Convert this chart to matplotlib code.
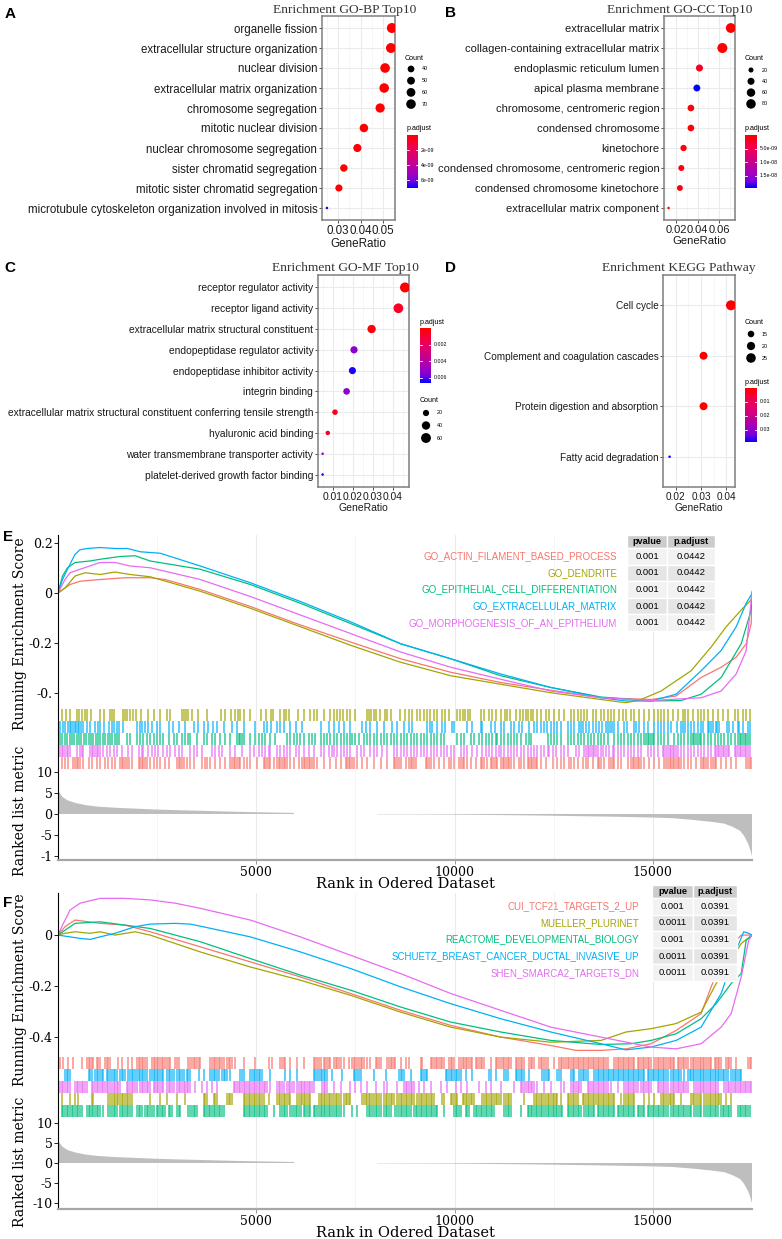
import numpy as np
import matplotlib.pyplot as plt
from matplotlib.colors import LinearSegmentedColormap
from matplotlib.patches import Rectangle

W, H = 782, 1239
SANS = 'Liberation Sans'
SERIF_T = 'Liberation Serif'
SERIF = 'DejaVu Serif'

# ---------------- A: GO-BP ----------------
bp_terms = ['organelle fission', 'extracellular structure organization', 'nuclear division',
            'extracellular matrix organization', 'chromosome segregation', 'mitotic nuclear division',
            'nuclear chromosome segregation', 'sister chromatid segregation',
            'mitotic sister chromatid segregation', 'microtubule cytoskeleton organization involved in mitosis']
bp_ratio = [0.0539, 0.0535, 0.0509, 0.0505, 0.0487, 0.0415, 0.0386, 0.0326, 0.0304, 0.0251]
bp_count = [76, 75, 71, 70, 66, 57, 53, 46, 43, 23]
bp_padj = [3e-13, 5e-12, 2e-12, 1e-11, 4e-11, 8e-11, 2e-10, 3e-11, 5e-11, 7.0e-9]

# ---------------- B: GO-CC ----------------
cc_terms = ['extracellular matrix', 'collagen-containing extracellular matrix', 'endoplasmic reticulum lumen',
            'apical plasma membrane', 'chromosome, centromeric region', 'condensed chromosome', 'kinetochore',
            'condensed chromosome, centromeric region', 'condensed chromosome kinetochore',
            'extracellular matrix component']
cc_ratio = [0.0708, 0.0630, 0.0418, 0.0394, 0.0339, 0.0339, 0.0271, 0.0250, 0.0237, 0.0132]
cc_count = [86, 90, 40, 38, 35, 35, 31, 28, 27, 11]
cc_padj = [1e-13, 2e-12, 1.8e-9, 1.95e-8, 4e-10, 4e-10, 6e-10, 8e-10, 8e-10, 5e-10]

# ---------------- C: GO-MF ----------------
mf_terms = ['receptor regulator activity', 'receptor ligand activity', 'extracellular matrix structural constituent',
            'endopeptidase regulator activity', 'endopeptidase inhibitor activity', 'integrin binding',
            'extracellular matrix structural constituent conferring tensile strength', 'hyaluronic acid binding',
            'water transmembrane transporter activity', 'platelet-derived growth factor binding']
mf_ratio = [0.0460, 0.0427, 0.0293, 0.0205, 0.0197, 0.0168, 0.0110, 0.0074, 0.0048, 0.0048]
mf_count = [62, 58, 40, 28, 27, 23, 15, 10, 6, 6]
mf_padj = [1e-5, 8e-4, 2e-4, 5.3e-3, 6.4e-3, 5.2e-3, 4e-4, 9e-4, 5.0e-3, 6.6e-3]

# ---------------- D: KEGG ----------------
kegg_terms = ['Cell cycle', 'Complement and coagulation cascades', 'Protein digestion and absorption',
              'Fatty acid degradation']
kegg_ratio = [0.0418, 0.0310, 0.0310, 0.0176]
kegg_count = [27, 19, 19, 10]
kegg_padj = [2e-6, 1.5e-4, 1.5e-4, 0.039]

# ---------------- E / F : GSEA ----------------
N_GENES = 17500
hue5 = ['#F8766D', '#A3A500', '#00BF7D', '#00B0F6', '#E76BF3']

e_names = ['GO_ACTIN_FILAMENT_BASED_PROCESS', 'GO_DENDRITE', 'GO_EPITHELIAL_CELL_DIFFERENTIATION',
           'GO_EXTRACELLULAR_MATRIX', 'GO_MORPHOGENESIS_OF_AN_EPITHELIUM']
e_pvalue = ['0.001', '0.001', '0.001', '0.001', '0.001']
e_padjust = ['0.0442', '0.0442', '0.0442', '0.0442', '0.0442']

f_names = ['CUI_TCF21_TARGETS_2_UP', 'MUELLER_PLURINET', 'REACTOME_DEVELOPMENTAL_BIOLOGY',
           'SCHUETZ_BREAST_CANCER_DUCTAL_INVASIVE_UP', 'SHEN_SMARCA2_TARGETS_DN']
f_pvalue = ['0.001', '0.0011', '0.001', '0.0011', '0.0011']
f_padjust = ['0.0391', '0.0391', '0.0391', '0.0391', '0.0391']

# running enrichment score curves (rank, ES)
e_actin_rank = [0, 303, 556, 1061, 1693, 2324, 2703, 3587, 4850, 6113, 7376, 8639, 9902, 11165, 12428,
                13691, 14954, 15586, 16217, 16722, 17101, 17354, 17480, 17500]
e_actin_es = [0, 0.034, 0.047, 0.054, 0.061, 0.061, 0.054, 0.014, -0.054, -0.128, -0.196, -0.263, -0.317,
              -0.358, -0.389, -0.419, -0.426, -0.412, -0.338, -0.297, -0.257, -0.203, -0.122, 0.0]
e_dendrite_rank = [0, 177, 430, 682, 1061, 1440, 1819, 2324, 3587, 4850, 6113, 7376, 8639, 9902, 11165,
                   12428, 13691, 14323, 14701, 15207, 15965, 16470, 16849, 17228, 17480, 17500]
e_dendrite_es = [0, 0.020, 0.068, 0.081, 0.074, 0.084, 0.074, 0.065, 0.007, -0.061, -0.135, -0.209, -0.277,
                 -0.331, -0.365, -0.399, -0.426, -0.439, -0.426, -0.392, -0.311, -0.216, -0.135, -0.068,
                 -0.027, 0.0]
e_epi_rank = [0, 114, 240, 430, 808, 1061, 1566, 1945, 2324, 3587, 4850, 6113, 7376, 8639, 9902, 11165,
              12428, 13691, 14954, 15712, 16217, 16722, 17228, 17480, 17500]
e_epi_es = [0, 0.068, 0.101, 0.122, 0.128, 0.135, 0.146, 0.149, 0.128, 0.095, 0.034, -0.041, -0.122, -0.203,
            -0.263, -0.331, -0.378, -0.416, -0.432, -0.430, -0.405, -0.338, -0.203, -0.068, -0.01]
e_ecm_rank = [0, 114, 240, 430, 556, 745, 1061, 1440, 1756, 2071, 2577, 3587, 4850, 6113, 7376, 8639, 9902,
              11165, 12428, 13691, 14323, 14954, 15586, 16217, 16722, 17101, 17354, 17480, 17500]
e_ecm_es = [0, 0.054, 0.095, 0.155, 0.173, 0.178, 0.182, 0.178, 0.178, 0.165, 0.159, 0.108, 0.041, -0.034,
            -0.115, -0.203, -0.263, -0.324, -0.378, -0.419, -0.432, -0.432, -0.405, -0.311, -0.230, -0.135,
            -0.041, -0.007, 0.0]
e_morpho_rank = [0, 177, 303, 556, 1061, 1440, 1819, 2324, 3587, 4850, 6113, 7376, 8639, 9902, 11165, 12428,
                 13691, 14954, 16217, 16722, 17101, 17354, 17500]
e_morpho_es = [0, 0.054, 0.081, 0.095, 0.122, 0.122, 0.108, 0.101, 0.054, -0.014, -0.088, -0.162, -0.236,
               -0.297, -0.345, -0.392, -0.419, -0.430, -0.419, -0.392, -0.324, -0.230, 0.007]

f_cui_rank = [0, 177, 430, 1061, 1693, 2324, 3587, 4850, 6113, 7376, 8639, 9902, 11165, 12428, 13060, 13691,
              14323, 14954, 15586, 16217, 16470, 16849, 17228, 17500]
f_cui_es = [0, 0.033, 0.059, 0.046, 0.039, 0.013, -0.046, -0.105, -0.164, -0.229, -0.295, -0.354, -0.400,
            -0.433, -0.452, -0.452, -0.446, -0.426, -0.374, -0.308, -0.203, -0.059, 0.0, 0.0]
f_mueller_rank = [0, 177, 430, 808, 1061, 1440, 1945, 2324, 2956, 3587, 4850, 6113, 7376, 8639, 9902, 11165,
                  12428, 13691, 14323, 14954, 15586, 16217, 16596, 16975, 17228, 17500]
f_mueller_es = [0, 0.007, 0.013, 0.007, 0.013, 0.0, 0.013, 0.0, -0.033, -0.066, -0.125, -0.177, -0.236,
                -0.302, -0.361, -0.400, -0.420, -0.413, -0.380, -0.367, -0.347, -0.302, -0.190, -0.098,
                -0.033, 0.0]
f_reactome_rank = [0, 240, 430, 1061, 1693, 2324, 3587, 4850, 6113, 7376, 8639, 9902, 11165, 12428, 13691,
                   14450, 14954, 15586, 16217, 16596, 16975, 17228, 17354, 17500]
f_reactome_es = [0, 0.026, 0.046, 0.052, 0.039, 0.026, -0.026, -0.092, -0.157, -0.216, -0.282, -0.341,
                 -0.380, -0.413, -0.429, -0.426, -0.413, -0.387, -0.328, -0.269, -0.190, -0.151, -0.020, 0.0]
f_schuetz_rank = [0, 303, 556, 808, 1061, 1440, 1945, 2324, 2956, 3334, 3587, 4850, 6113, 7376, 8639, 9902,
                  11165, 12428, 13691, 14323, 14954, 15586, 16217, 16722, 17101, 17291, 17417, 17500]
f_schuetz_es = [0, -0.007, -0.013, -0.017, -0.007, 0.007, 0.033, 0.043, 0.046, 0.043, 0.035, -0.007, -0.066,
                -0.131, -0.203, -0.269, -0.328, -0.380, -0.426, -0.450, -0.439, -0.413, -0.361, -0.229,
                -0.059, 0.013, 0.007, 0.0]
f_shen_rank = [0, 114, 303, 556, 1061, 1693, 2324, 2956, 3587, 4850, 6113, 7376, 8639, 9902, 11165, 12428,
               13691, 14954, 15586, 16217, 16722, 16975, 17228, 17417, 17500]
f_shen_es = [0, 0.039, 0.098, 0.125, 0.144, 0.144, 0.138, 0.125, 0.105, 0.059, -0.007, -0.079, -0.151,
             -0.229, -0.295, -0.361, -0.400, -0.439, -0.446, -0.426, -0.361, -0.308, -0.164, -0.020, 0.0]

# gene-set hit positions (ranks)
e_dendrite_hits = [90, 200, 290, 470, 540, 600, 670, 720, 830, 1060, 1150, 1300, 1360, 1420, 1630, 1690, 1750,
    1820, 1890, 1970, 2090, 2260, 2430, 2580, 2760, 2830, 3120, 3170, 3230, 3290, 3380, 3520, 3760, 4110, 4220,
    4350, 4470, 4530, 4600, 4700, 4850, 5120, 5250, 5360, 5420, 5610, 5690, 5760, 5830, 6050, 6210, 6350, 6450,
    6530, 6720, 6850, 6970, 7040, 7120, 7190, 7280, 7360, 7500, 7780, 7840, 7900, 7970, 8030, 8120, 8240, 8300,
    8400, 8620, 8740, 8850, 8930, 9060, 9140, 9230, 9310, 9390, 9480, 9560, 9690, 9770, 9860, 10070, 10140,
    10200, 10270, 10340, 10400, 10660, 10740, 10870, 10950, 11040, 11160, 11260, 11330, 11400, 11540, 11650,
    11720, 11790, 11850, 11920, 11990, 12090, 12170, 12300, 12380, 12510, 12640, 12760, 12930, 13010, 13100,
    13180, 13270, 13350, 13480, 13560, 13690, 13770, 13860, 13940, 14030, 14150, 14240, 14320, 14450, 14530,
    14660, 14780, 14910, 15040, 15120, 15200, 15290, 15370, 15500, 15630, 15750, 15820, 15880, 16000, 16130,
    16210, 16300, 16380, 16510, 16640, 16760, 16890, 17060, 17140, 17270, 17350, 17440]
e_ecm_hits = [50, 130, 180, 260, 300, 340, 380, 420, 460, 500, 540, 580, 620, 720, 800, 940, 1000, 1070, 1150,
    1280, 1350, 1420, 1480, 1530, 1640, 1990, 2060, 2130, 2200, 2270, 2360, 2490, 2580, 2790, 2900, 3040, 3210,
    3420, 3540, 3670, 3780, 3920, 4010, 4180, 4390, 4510, 4680, 4980, 5190, 5270, 5360, 5520, 5610, 5690, 5860,
    5990, 6160, 6620, 6830, 6960, 7080, 7210, 7370, 7670, 7760, 7880, 8050, 8220, 8430, 8550, 8720, 8850, 8930,
    9310, 9390, 9440, 9560, 9690, 9770, 9940, 9990, 10320, 10450, 10660, 10700, 10910, 11030, 11160, 11250,
    11420, 11500, 11630, 11710, 11880, 12000, 12090, 12170, 12260, 12340, 12430, 12510, 12590, 12680, 12850,
    12930, 13010, 13140, 13180, 13230, 13310, 13390, 13480, 13560, 13640, 13720, 13810, 13860, 13920, 13980,
    14030, 14110, 14280, 14360, 14530, 14570, 14650, 14780, 14870, 15030, 15120, 15200, 15290, 15370, 15460,
    15620, 15710, 15750, 15800, 15880, 15960, 16050, 16130, 16210, 16260, 16380, 16420, 16470, 16520, 16580,
    16630, 16680, 16880, 16930, 17010, 17140, 17180, 17270, 17390, 17440]
e_epi_hits = [50, 110, 170, 230, 290, 350, 410, 470, 530, 590, 650, 710, 770, 830, 890, 950, 1010, 1070, 1130,
    1190, 1250, 1310, 1370, 1430, 1490, 1550, 1735, 1820, 1990, 2070, 2155, 2240, 2325, 2410, 2490, 2575, 2660,
    2790, 2915, 3000, 3120, 3200, 3290, 3335, 3500, 3670, 3755, 3880, 3965, 4090, 4220, 4345, 4515, 4560, 4600,
    4640, 4680, 4850, 4980, 5060, 5140, 5230, 5355, 5480, 5775, 5860, 5940, 6030, 6110, 6200, 6320, 6400, 6490,
    6620, 6700, 6790, 6870, 6955, 7040, 7125, 7210, 7290, 7375, 7420, 7500, 7590, 7710, 7795, 7880, 7965, 8050,
    8135, 8220, 8300, 8385, 8470, 8555, 8640, 8725, 8810, 8890, 8980, 9060, 9145, 9230, 9310, 9400, 9480, 9565,
    9650, 9735, 10070, 10155, 10240, 10410, 10490, 10620, 10700, 10780, 10870, 10950, 11040, 11080, 11165,
    11250, 11335, 11420, 11500, 11585, 11670, 11800, 11880, 11925, 12345, 12430, 12515, 12595, 12680, 12850,
    12935, 13020, 13100, 13185, 13270, 13355, 13440, 13525, 13610, 13690, 13775, 13860, 14030, 14115, 14195,
    14280, 14365, 14450, 14535, 14620, 14700, 14785, 14830, 14870, 14910, 14955, 15000, 15040, 15125, 15210,
    15290, 15375, 15545, 15630, 15715, 15795, 15880, 15965, 16010, 16050, 16090, 16135, 16180, 16220, 16300,
    16385, 16470, 16555, 16640, 16725, 16805, 16890, 16975, 17060, 17145, 17190, 17230, 17270, 17315, 17355,
    17395, 17440]
e_morpho_hits = [50, 100, 135, 180, 220, 260, 300, 470, 560, 600, 640, 810, 850, 890, 930, 980, 1020, 1060,
    1145, 1230, 1315, 1400, 1480, 1610, 1775, 1860, 2030, 2110, 2155, 2280, 2370, 2450, 2530, 2660, 2745, 2830,
    2960, 3040, 3120, 3335, 3420, 3500, 3630, 3880, 3965, 4050, 4130, 4345, 4470, 4640, 4850, 4935, 5060, 5140,
    5230, 5310, 5355, 5525, 5610, 5690, 5775, 5860, 5990, 6070, 6200, 6320, 6450, 6620, 6700, 6830, 6910, 6955,
    7040, 7125, 7210, 7290, 7375, 7545, 7630, 7710, 7880, 7965, 8050, 8175, 8300, 8470, 8555, 8640, 8725, 8810,
    8890, 8980, 9060, 9145, 9230, 9310, 9400, 9480, 9565, 9650, 9735, 9820, 9900, 9990, 10155, 10240, 10325,
    10450, 10575, 10700, 10780, 10870, 10950, 11040, 11120, 11165, 11250, 11335, 11420, 11500, 11585, 11670,
    11755, 11840, 11925, 12010, 12090, 12175, 12260, 12345, 12390, 12470, 12555, 12680, 12765, 12850, 13060,
    13140, 13270, 13310, 13355, 13400, 13440, 13480, 13525, 13570, 13610, 13690, 13735, 13820, 13900, 13990,
    14030, 14115, 14195, 14280, 14365, 14450, 14535, 14620, 14700, 14870, 14955, 15040, 15125, 15250, 15290,
    15335, 15375, 15420, 15460, 15500, 15545, 15590, 15630, 15715, 15795, 15880, 15965, 16050, 16135, 16220,
    16300, 16385, 16470, 16555, 16600, 16640, 16680, 16725, 16765, 16805, 16850, 16890, 16930, 17060, 17100,
    17145, 17190, 17230, 17270, 17315, 17355, 17395, 17440]
e_actin_hits = [90, 180, 260, 390, 430, 470, 510, 560, 640, 770, 850, 980, 1060, 1190, 1270, 1360, 1440, 1565,
    1610, 1650, 1690, 1735, 1780, 1860, 2030, 2070, 2110, 2155, 2200, 2240, 2325, 2410, 2490, 2575, 2700, 2790,
    3000, 3040, 3080, 3120, 3165, 3250, 3335, 3420, 3630, 3710, 3755, 3840, 3965, 4090, 4220, 4345, 4390, 4430,
    4470, 4515, 4560, 4600, 4680, 4765, 4850, 5020, 5185, 5230, 5270, 5310, 5355, 5440, 5525, 5570, 5610, 5650,
    5690, 5735, 5775, 5860, 5945, 6070, 6160, 6200, 6240, 6280, 6320, 6365, 6410, 6450, 6535, 6700, 6870, 7000,
    7125, 7250, 7290, 7330, 7375, 7420, 7460, 7545, 7670, 7795, 7965, 8135, 8300, 8470, 8510, 8555, 8600, 8640,
    8770, 8850, 8890, 8930, 8980, 9020, 9270, 9310, 9350, 9400, 9480, 9610, 9735, 9860, 9900, 9990, 10110,
    10155, 10200, 10240, 10325, 10410, 10535, 10660, 10700, 10745, 10830, 10910, 10950, 10995, 11040, 11080,
    11165, 11210, 11250, 11290, 11335, 11380, 11420, 11500, 11630, 11670, 11755, 11840, 11880, 11925, 11965,
    12010, 12050, 12090, 12175, 12300, 12470, 12595, 12680, 12765, 12890, 12935, 13020, 13100, 13230, 13310,
    13355, 13480, 13610, 13650, 13690, 13775, 13900, 13945, 13990, 14030, 14115, 14195, 14365, 14450, 14490,
    14535, 14580, 14620, 14660, 14700, 14785, 14910, 15040, 15165, 15290, 15335, 15375, 15420, 15460, 15500,
    15545, 15590, 15630, 15670, 15715, 15795, 15880, 15965, 16090, 16220, 16260, 16300, 16340, 16385, 16470,
    16510, 16555, 16600, 16725, 16850, 16975, 17100, 17355, 17395, 17440, 17480]

f_cui_hits = [50, 135, 260, 390, 600, 725, 770, 810, 850, 890, 980, 1020, 1060, 1190, 1230, 1270, 1315, 1525,
    1610, 1775, 1860, 1990, 2030, 2070, 2110, 2155, 2200, 2240, 2370, 2410, 2450, 2490, 2530, 2575, 2620, 2660,
    2700, 2745, 2790, 2830, 2960, 3000, 3040, 3290, 3335, 3380, 3420, 3460, 3500, 3545, 3590, 3840, 3880, 3925,
    3965, 4010, 4050, 4090, 4130, 4175, 4260, 4300, 4345, 4390, 4470, 4680, 4980, 5310, 5400, 5610, 5650, 5690,
    5735, 5860, 6030, 6200, 6450, 6490, 6535, 6580, 6620, 6700, 6745, 6790, 6830, 6870, 6955, 7000, 7040, 7080,
    7125, 7210, 7330, 7420, 7460, 7500, 7545, 7590, 7630, 7670, 7710, 7795, 7880, 8010, 8050, 8090, 8135, 8300,
    8340, 8385, 8430, 8470, 8510, 8640, 8770, 8850, 9145, 9190, 9400, 9440, 9480, 9525, 9565, 9610, 9650, 9690,
    9735, 9860, 9900, 9945, 9990, 10110, 10155, 10200, 10240, 10280, 10325, 10370, 10410, 10450, 10535, 10575,
    10620, 10660, 10700, 10745, 10910, 11040, 11080, 11120, 11165, 11210, 11250, 11290, 11335, 11380, 11420,
    11545, 11585, 11630, 11670, 11710, 11755, 11880, 11925, 11965, 12010, 12135, 12175, 12215, 12260, 12300,
    12345, 12515, 12640, 12680, 12720, 12765, 12810, 12850, 12890, 12935, 12975, 13020, 13060, 13100, 13140,
    13185, 13230, 13270, 13310, 13355, 13400, 13440, 13480, 13525, 13570, 13610, 13650, 13690, 13735, 13775,
    13820, 13860, 14030, 14070, 14115, 14155, 14195, 14240, 14280, 14320, 14365, 14410, 14450, 14490, 14535,
    14620, 14660, 14700, 14745, 14785, 14830, 14870, 14910, 14955, 15040, 15080, 15125, 15165, 15210, 15250,
    15290, 15335, 15375, 15420, 15460, 15500, 15545, 15630, 15670, 15715, 15755, 15795, 15840, 15880, 15965,
    16010, 16050, 16090, 16135, 16180, 16220, 16260, 16300, 16340, 16385, 16430, 16470, 16555, 16600, 16640,
    16680, 16725, 16850, 16890, 16930, 16975, 17100, 17395, 17440, 17480]
f_schuetz_hits = [180, 220, 260, 300, 770, 810, 850, 940, 980, 1020, 1060, 1100, 1145, 1230, 1270, 1315, 1360,
    1400, 1440, 1480, 1565, 1610, 1650, 1690, 1775, 1820, 1860, 1900, 1950, 1990, 2030, 2070, 2110, 2155, 2200,
    2240, 2325, 2370, 2410, 2450, 2490, 2530, 2575, 2620, 2660, 2745, 2790, 2830, 2870, 2915, 3000, 3040, 3080,
    3120, 3165, 3250, 3290, 3335, 3545, 3670, 3840, 3880, 3925, 3965, 4010, 4050, 4130, 4175, 4220, 4260, 4345,
    4600, 4640, 4680, 4850, 4890, 4935, 4980, 5020, 5060, 5100, 5140, 5355, 5735, 5860, 6030, 6450, 6490, 6535,
    6580, 6620, 6660, 6700, 6745, 6790, 6910, 7165, 7460, 7500, 7545, 7590, 7630, 7965, 8260, 8600, 8640, 8680,
    8725, 8890, 9145, 9190, 9230, 9270, 9310, 9780, 9820, 9860, 9900, 9945, 9990, 10030, 10070, 10110, 10155,
    10280, 10450, 10870, 10910, 11040, 11250, 11290, 11335, 11545, 11585, 11630, 11670, 11710, 11755, 11880,
    12215, 12260, 12300, 12345, 12390, 12595, 12640, 12680, 12935, 12975, 13020, 13140, 13185, 13230, 13270,
    13310, 13355, 13525, 13570, 13610, 13650, 13690, 13735, 13775, 13820, 13860, 13900, 13945, 13990, 14030,
    14070, 14115, 14155, 14195, 14240, 14280, 14320, 14365, 14410, 14450, 14490, 14535, 14580, 14620, 14660,
    14700, 14745, 14785, 14870, 14910, 14955, 15000, 15040, 15080, 15125, 15165, 15210, 15250, 15290, 15335,
    15375, 15460, 15500, 15545, 15590, 15630, 15670, 15715, 15795, 15880, 15925, 15965, 16010, 16050, 16090,
    16135, 16180, 16220, 16260, 16300, 16340, 16385, 16430, 16470, 16510, 16555, 16600, 16640, 16680, 16725,
    16765, 16805, 16850, 16890, 16975, 17015, 17060, 17100, 17145, 17190, 17230]
f_shen_hits = [50, 90, 135, 180, 220, 260, 300, 430, 470, 510, 560, 600, 640, 680, 725, 850, 890, 930, 980,
    1020, 1060, 1100, 1145, 1190, 1230, 1270, 1315, 1360, 1400, 1440, 1480, 1525, 1565, 1735, 1775, 1820, 1860,
    1900, 1950, 1990, 2070, 2110, 2155, 2200, 2240, 2280, 2325, 2410, 2450, 2490, 2530, 2575, 2620, 2660, 2745,
    2790, 2830, 2870, 2915, 3000, 3040, 3080, 3120, 3165, 3210, 3250, 3290, 3335, 3460, 3630, 3755, 3880, 4010,
    4430, 4470, 4515, 4560, 4600, 4640, 4680, 4720, 4765, 4810, 4850, 4890, 4935, 4980, 5020, 5060, 5100, 5140,
    5185, 5230, 5270, 5355, 5525, 5570, 5610, 5650, 5690, 5775, 5820, 5860, 5900, 5945, 6030, 6070, 6115, 6160,
    6200, 6240, 6280, 6320, 6365, 6410, 6450, 6660, 6700, 6745, 6790, 6955, 7125, 7375, 7500, 7630, 7795, 8010,
    8220, 8300, 8555, 8725, 8765, 8810, 8850, 8890, 8930, 8980, 9100, 9230, 9400, 9650, 9820, 10030, 10155,
    10325, 10620, 10790, 10910, 11165, 11500, 11670, 11710, 11755, 11800, 11840, 11880, 11925, 11965, 12010,
    12090, 12260, 12430, 12680, 12765, 12935, 12975, 13020, 13060, 13100, 13140, 13185, 13355, 13400, 13440,
    13480, 13525, 13570, 13610, 13650, 13690, 13735, 13775, 13820, 13860, 13945, 14115, 14280, 14320, 14365,
    14410, 14450, 14490, 14535, 14580, 14620, 14700, 14745, 14785, 14830, 14870, 14910, 14955, 15125, 15165,
    15210, 15250, 15290, 15335, 15375, 15460, 15500, 15545, 15590, 15630, 15670, 15715, 15755, 15795, 15840,
    15880, 16050, 16090, 16135, 16180, 16220, 16260, 16300, 16340, 16385, 16430, 16470, 16510, 16555, 16600,
    16640, 16805, 16850, 16890, 16930, 16975, 17015, 17060, 17100, 17145, 17190, 17230, 17270, 17315, 17355,
    17395, 17440, 17480]
f_mueller_hits = [90, 300, 430, 510, 850, 890, 1270, 1315, 1360, 1400, 1440, 1480, 1525, 1565, 1610, 1650,
    1690, 1735, 1775, 1820, 1860, 2325, 2575, 2745, 3000, 3210, 3670, 3710, 3755, 3925, 3965, 4010, 4260, 4300,
    4345, 4390, 4680, 4720, 4765, 4810, 4850, 4890, 4935, 4980, 5020, 5060, 5100, 5140, 5185, 5310, 5525, 5570,
    5610, 5650, 5690, 5735, 5775, 5820, 5860, 6030, 6070, 6115, 6160, 6200, 6240, 6280, 6320, 6365, 6580, 6620,
    6660, 6700, 6745, 6790, 6830, 6870, 6910, 6955, 7000, 7040, 7080, 7125, 7210, 7250, 7290, 7330, 7375, 7670,
    7710, 7755, 7795, 7840, 7880, 7925, 7965, 8010, 8050, 8090, 8135, 8220, 8260, 8300, 8340, 8385, 8430, 8470,
    8555, 8600, 8640, 8680, 8725, 8770, 8810, 8850, 8890, 8930, 8980, 9060, 9100, 9145, 9190, 9230, 9270, 9310,
    9350, 9400, 9440, 9480, 9690, 9735, 9900, 9945, 9990, 10030, 10070, 10200, 10240, 10280, 10325, 10370,
    10410, 10450, 10490, 10700, 10745, 10790, 10830, 10870, 10910, 10950, 10995, 11040, 11080, 11120, 11165,
    11250, 11290, 11335, 11380, 11420, 11755, 12010, 12050, 12090, 12135, 12175, 12215, 12260, 12300, 12345,
    12390, 12430, 12470, 12515, 12555, 12595, 12680, 12850, 12890, 12935, 12975, 13020, 13060, 13100, 13230,
    13270, 13310, 13355, 13400, 13440, 13480, 13525, 13570, 13610, 13650, 13690, 13735, 13775, 13820, 13860,
    13900, 13945, 13990, 14030, 14195, 14280, 14320, 14365, 14410, 14450, 14490, 14535, 14785, 14910, 15040,
    15210, 15250, 15290, 15335, 15375, 15420, 15460, 15500, 15545, 15715, 15965, 16010, 16050, 16090, 16135,
    16180, 16220, 16300, 16340, 16385, 16430, 16470, 16510, 16555, 16600, 16640, 16680, 16725, 16850, 16975]
f_reactome_hits = [90, 135, 180, 220, 260, 300, 345, 390, 430, 470, 510, 560, 600, 725, 770, 810, 850, 890,
    930, 980, 1020, 1060, 1145, 1270, 1315, 1360, 1400, 1440, 1480, 1565, 1610, 1650, 1690, 1735, 1775, 1820,
    1860, 1990, 2030, 2070, 2110, 2200, 2240, 2280, 2325, 2370, 2410, 2490, 2530, 2575, 2620, 2660, 2700, 2790,
    2830, 2870, 3000, 3040, 3080, 3290, 3335, 3380, 3420, 3460, 3500, 3670, 3710, 3755, 3800, 3840, 3880, 3925,
    3965, 4010, 4050, 4090, 4130, 4175, 4680, 4720, 4765, 4810, 4850, 4890, 4935, 4980, 5020, 5060, 5100, 5140,
    5185, 5230, 5270, 5440, 5610, 5650, 5690, 5735, 5775, 5860, 5900, 5945, 5990, 6030, 6070, 6115, 6200, 6240,
    6280, 6320, 6365, 6450, 6490, 6535, 6580, 6620, 6660, 6700, 6745, 6790, 6830, 6870, 6910, 6955, 7000, 7040,
    7080, 7125, 7210, 7420, 7545, 7795, 7840, 7880, 7925, 7965, 8010, 8050, 8090, 8135, 8220, 8260, 8300, 8340,
    8385, 8510, 8555, 8600, 8640, 8680, 8720, 8765, 8810, 8850, 8890, 8980, 9020, 9060, 9100, 9145, 9190, 9230,
    9270, 9310, 9350, 9400, 9440, 9480, 9525, 9565, 9735, 9990, 10030, 10070, 10110, 10155, 10280, 10325, 10370,
    10490, 10535, 10575, 10620, 10660, 10700, 10745, 10790, 10830, 10870, 10910, 10950, 10995, 11250, 11290,
    11335, 11380, 11420, 11670, 11840, 11880, 11925, 11965, 12010, 12050, 12090, 12135, 12175, 12215, 12260,
    12300, 12345, 12390, 12430, 12470, 12515, 12555, 12595, 12640, 12680, 12720, 12850, 12890, 12935, 12975,
    13020, 13060, 13100, 13140, 13185, 13270, 13310, 13355, 13400, 13440, 13480, 13525, 13610, 13650, 13690,
    13735, 13775, 13820, 13860, 13900, 13945, 13990, 14030, 14115, 14155, 14195, 14240, 14280, 14320, 14365,
    14410, 14450, 14490, 14535, 14620, 14660, 14700, 14745, 14785, 14870, 14910, 14955, 15000, 15040, 15080,
    15125, 15165, 15210, 15250, 15290, 15335, 15375, 15460, 15500, 15545, 15590, 15630, 15670, 15715, 15755,
    15795, 15840, 15880, 15925, 15965, 16050, 16090, 16135, 16180, 16220, 16300, 16340, 16385, 16430, 16470,
    16510, 16555, 16600, 16640, 16725, 16765, 16805, 16850, 16890, 16930, 16975, 17145, 17190, 17230, 17270,
    17315, 17355, 17395, 17440]

# ranked list metric (shared ranking)
metric_rank = [0, 40, 120, 250, 450, 700, 1000, 1500, 2000, 2500, 3000, 3500, 4000, 4500, 5000, 5500, 5950,
               6000, 8000, 8050, 9000, 10000, 11000, 12000, 13000, 14000, 15000, 15500, 16000, 16500, 16800,
               17000, 17200, 17300, 17400, 17450, 17500]
metric_value = [6.3, 5.0, 4.0, 3.2, 2.6, 2.1, 1.75, 1.45, 1.25, 1.05, 0.9, 0.78, 0.65, 0.52, 0.42, 0.33, 0.25,
                0.0, 0.0, -0.08, -0.1, -0.15, -0.25, -0.35, -0.5, -0.65, -0.85, -1.0, -1.4, -1.9, -2.3, -3.0,
                -4.0, -5.2, -7.0, -8.3, -10.0]

# ---------------------------------------------------------------------------
cmap_padj = LinearSegmentedColormap.from_list(
    'padj', [(0, '#FF0000'), (0.25, '#F00056'), (0.5, '#CA0088'), (0.75, '#9A00C3'),
             (0.875, '#7300E0'), (1, '#0000FF')])

fig = plt.figure(figsize=(W / 100, H / 100), dpi=100)


def px_axes(l, t, r, b):
    return fig.add_axes([l / W, 1 - b / H, (r - l) / W, (b - t) / H])


def dot_size(c, lo, hi):
    t = (np.asarray(c, float) - lo) / (hi - lo)
    d = 2.5 + 7.5 * np.sqrt(np.clip(t, 0, None))
    return (d * 0.72) ** 2


def dot_panel(box, terms, ratio, count, padj, xlim, xticks, xminor, fs):
    ax = px_axes(*box)
    n = len(terms)
    ypos = np.arange(n)[::-1]
    lo, hi = min(count), max(count)
    ax.scatter(ratio, ypos, s=dot_size(count, lo, hi), c=padj, cmap=cmap_padj,
               vmin=min(padj), vmax=max(padj), edgecolors='none', zorder=3)
    ax.set_xlim(xlim)
    ax.set_ylim(-0.6, n - 0.4)
    ax.set_yticks(ypos)
    ax.set_yticklabels(terms, family=SANS)
    ax.set_xticks(xticks)
    ax.set_xticklabels(['%.2f' % v for v in xticks], family=SANS)
    ax.set_xticks(xminor, minor=True)
    ax.grid(True, which='major', color='#EBEBEB', lw=0.8)
    ax.grid(True, which='minor', axis='x', color='#F3F3F3', lw=0.5)
    ax.set_axisbelow(True)
    ax.tick_params(which='major', length=2.2, width=0.6, color='#333333', labelsize=fs,
                   labelcolor='#1A1A1A', pad=1.2)
    ax.tick_params(which='minor', length=0)
    for s in ax.spines.values():
        s.set_color('#7F7F7F')
        s.set_linewidth(1.1)
    ax.set_xlabel('GeneRatio', fontsize=fs + 0.1, labelpad=1, color='#1A1A1A', family=SANS)
    return lo, hi


lo_a, hi_a = dot_panel((322, 16, 395, 220), bp_terms, bp_ratio, bp_count, bp_padj,
                       (0.0229, 0.0553), [0.03, 0.04, 0.05], [0.025, 0.035, 0.045, 0.055], 8.3)
lo_b, hi_b = dot_panel((664, 16, 735, 220), cc_terms, cc_ratio, cc_count, cc_padj,
                       (0.009, 0.0747), [0.02, 0.04, 0.06], [0.01, 0.03, 0.05, 0.07], 8.0)
lo_c, hi_c = dot_panel((318, 275, 409, 487), mf_terms, mf_ratio, mf_count, mf_padj,
                       (0.0025, 0.048), [0.01, 0.02, 0.03, 0.04], [0.005, 0.015, 0.025, 0.035, 0.045], 7.4)
lo_d, hi_d = dot_panel((663, 275, 735, 487), kegg_terms, kegg_ratio, kegg_count, kegg_padj,
                       (0.0162, 0.0434), [0.02, 0.03, 0.04], [0.015, 0.025, 0.035], 7.2)


def gsea_panel(top, rug_top, rug_bot, bot, curves, rugs, es_lim, es_ticks, es_labels, m_lim, m_labels):
    ax1 = px_axes(58, top, 752, rug_top)
    ax2 = px_axes(58, rug_top, 752, rug_bot)
    ax3 = px_axes(58, rug_bot, 752, bot)
    for ax in (ax1, ax2, ax3):
        ax.set_xlim(0, N_GENES)
        ax.set_xticks([5000, 10000, 15000])
        ax.set_xticks([2500, 7500, 12500], minor=True)
        ax.grid(True, which='major', axis='x', color='#EBEBEB', lw=0.8)
        ax.grid(True, which='minor', axis='x', color='#F2F2F2', lw=0.6)
        ax.set_axisbelow(True)
        for s in ('top', 'right', 'bottom'):
            ax.spines[s].set_visible(False)
        ax.spines['left'].set_linewidth(0.8)
        ax.tick_params(which='minor', length=0)
    for ranks, es, col in curves:
        ax1.plot(ranks, es, color=col, lw=0.9)
    ax1.set_ylim(es_lim)
    ax1.set_yticks(es_ticks)
    ax1.set_yticklabels(es_labels, family=SERIF)
    ax1.tick_params(axis='y', labelsize=9, length=3, width=0.6, pad=1)
    ax1.tick_params(axis='x', length=0, labelbottom=False)

    n = len(rugs)
    for k, (hits, col) in enumerate(rugs):
        ax2.vlines(hits, n - 1 - k, n - k, color=col, lw=1.1, alpha=0.8)
    ax2.set_ylim(0, n)
    ax2.set_yticks([])
    ax2.tick_params(axis='x', length=0, labelbottom=False)

    mv = np.array(metric_value)
    ax3.fill_between(metric_rank, mv, 0, where=mv != 0, color='#BEBEBE', lw=0)
    ax3.set_ylim(m_lim)
    ax3.set_yticks([10, 5, 0, -5, -10])
    ax3.set_yticklabels(m_labels, family=SERIF)
    ax3.set_xticklabels(['5000', '10000', '15000'], family=SERIF)
    ax3.tick_params(axis='y', labelsize=9, length=3, width=0.6, pad=1)
    ax3.tick_params(axis='x', which='major', labelsize=9, length=3, width=0.6, pad=1, color='#888888')
    ax3.spines['bottom'].set_visible(True)
    ax3.spines['bottom'].set_color('#A6A6A6')
    ax3.spines['bottom'].set_linewidth(1.6)
    ax3.set_xlabel('Rank in Odered Dataset', family=SERIF, fontsize=10.5, labelpad=-1)


gsea_panel(535, 709, 769, 860,
           [(e_actin_rank, e_actin_es, hue5[0]), (e_dendrite_rank, e_dendrite_es, hue5[1]),
            (e_epi_rank, e_epi_es, hue5[2]), (e_ecm_rank, e_ecm_es, hue5[3]),
            (e_morpho_rank, e_morpho_es, hue5[4])],
           [(e_dendrite_hits, hue5[1]), (e_ecm_hits, hue5[3]), (e_epi_hits, hue5[2]),
            (e_morpho_hits, hue5[4]), (e_actin_hits, hue5[0])],
           (-0.464, 0.232), [0.2, 0, -0.2, -0.4], ['0.2', '0', '-0.2', '-0.'],
           (-10.95, 10.7), ['10', '5', '0', '-5', '-1'])
gsea_panel(893, 1057, 1117, 1209,
           [(f_cui_rank, f_cui_es, hue5[0]), (f_mueller_rank, f_mueller_es, hue5[1]),
            (f_reactome_rank, f_reactome_es, hue5[2]), (f_schuetz_rank, f_schuetz_es, hue5[3]),
            (f_shen_rank, f_shen_es, hue5[4])],
           [(f_cui_hits, hue5[0]), (f_schuetz_hits, hue5[3]), (f_shen_hits, hue5[4]),
            (f_mueller_hits, hue5[1]), (f_reactome_hits, hue5[2])],
           (-0.478, 0.165), [0, -0.2, -0.4], ['0', '-0.2', '-0.4'],
           (-11.5, 11.5), ['10', '5', '0', '-5', '-10'])

# ---------------- overlay: titles, legends, tables ----------------
ov = fig.add_axes([0, 0, 1, 1], zorder=10)
ov.axis('off')


def count_legend(x, y_title, y0, step, breaks, lo, hi):
    ov.text(x, y_title, 'Count', fontsize=5.1, family=SANS, va='center', ha='left')
    ys = [y0 + k * step for k in range(len(breaks))]
    ov.scatter([x + 6] * len(breaks), ys, s=dot_size(breaks, lo, hi), color='black', edgecolors='none')
    for yy, b in zip(ys, breaks):
        ov.text(x + 17, yy, str(b), fontsize=3.9, family=SANS, va='center', ha='left')


def padj_bar(x0, x1, y0, y1, y_title, vmin, vmax, ticks, labels):
    ov.text(x0, y_title, 'p.adjust', fontsize=5.1, family=SANS, va='center', ha='left')
    grad = np.linspace(0, 1, 256).reshape(-1, 1)
    ov.imshow(grad, cmap=cmap_padj, extent=(x0, x1, y1, y0), aspect='auto', origin='upper')
    for t, lab in zip(ticks, labels):
        yy = y0 + (t - vmin) / (vmax - vmin) * (y1 - y0)
        ov.plot([x0, x0 + (x1 - x0) * 0.2], [yy, yy], color='white', lw=0.6)
        ov.plot([x1 - (x1 - x0) * 0.2, x1], [yy, yy], color='white', lw=0.6)
        ov.text(x1 + 3, yy, lab, fontsize=3.8, family=SANS, va='center', ha='left')


count_legend(405, 58, 69, 11.7, [40, 50, 60, 70], lo_a, hi_a)
padj_bar(407, 418, 135, 188, 129, min(bp_padj), max(bp_padj), [2e-9, 4e-9, 6e-9],
         ['2e-09', '4e-09', '6e-09'])
count_legend(745, 58, 70, 11.3, [20, 40, 60, 80], lo_b, hi_b)
padj_bar(745, 757, 135, 188, 128, min(cc_padj), max(cc_padj), [5e-9, 1e-8, 1.5e-8],
         ['5.0e-09', '1.0e-08', '1.5e-08'])
padj_bar(420, 431, 328, 383, 322, min(mf_padj), max(mf_padj), [0.002, 0.004, 0.006],
         ['0.002', '0.004', '0.006'])
count_legend(420, 401, 413, 12.5, [20, 40, 60], lo_c, hi_c)
count_legend(745, 322, 334, 12, [15, 20, 25], lo_d, hi_d)
padj_bar(745, 757, 388, 442, 383, min(kegg_padj), max(kegg_padj), [0.01, 0.02, 0.03],
         ['0.01', '0.02', '0.03'])

for x, y, s in [(345, 10, 'Enrichment GO-BP Top10'), (680, 10, 'Enrichment GO-CC Top10'),
                (345, 268, 'Enrichment GO-MF Top10'), (679, 268, 'Enrichment KEGG Pathway')]:
    ov.text(x, y, s, fontsize=9.7, family=SERIF_T, color='#333333', ha='center', va='center')

for x, y, s in [(10, 14, 'A'), (450, 13, 'B'), (10, 268, 'C'), (450, 268, 'D'),
                (8, 537, 'E'), (8, 903, 'F')]:
    ov.text(x, y, s, fontsize=11, family=SANS, fontweight='bold', ha='center', va='center')

for y, s in [(634, 'Running Enrichment Score'), (811, 'Ranked list metric'),
             (990, 'Running Enrichment Score'), (1162, 'Ranked list metric')]:
    ov.text(20, y, s, fontsize=10, family=SERIF, rotation=90, ha='center', va='center')


def stat_table(names, pvals, padjs, label_right, edges, head_top, head_h, row_h):
    ov.add_patch(Rectangle((edges[0], head_top), edges[1] - edges[0], head_h, fc='#CCCCCC', ec='white', lw=1))
    ov.add_patch(Rectangle((edges[1], head_top), edges[2] - edges[1], head_h, fc='#CCCCCC', ec='white', lw=1))
    hy = head_top + head_h / 2
    ov.text((edges[0] + edges[1]) / 2, hy, 'pvalue', fontsize=6.6, family=SANS, fontweight='bold',
            ha='center', va='center')
    ov.text((edges[1] + edges[2]) / 2, hy, 'p.adjust', fontsize=6.6, family=SANS, fontweight='bold',
            ha='center', va='center')
    for i, (nm, pv, pa) in enumerate(zip(names, pvals, padjs)):
        top = head_top + head_h + i * row_h
        fc = '#F2F2F2' if i % 2 == 0 else '#E5E5E5'
        for c0, c1 in ((edges[0], edges[1]), (edges[1], edges[2])):
            ov.add_patch(Rectangle((c0, top), c1 - c0, row_h, fc=fc, ec='white', lw=1))
        cy = top + row_h / 2
        ov.text(label_right, cy, nm, fontsize=7, family=SANS, color=hue5[i], ha='right', va='center')
        ov.text((edges[0] + edges[1]) / 2, cy, pv, fontsize=6.8, family=SANS, ha='center', va='center')
        ov.text((edges[1] + edges[2]) / 2, cy, pa, fontsize=6.8, family=SANS, ha='center', va='center')


stat_table(e_names, e_pvalue, e_padjust, 617, [627, 667, 715], 535, 13, 16.6)
stat_table(f_names, f_pvalue, f_padjust, 639, [652, 693, 737], 885, 13, 16.6)

ov.set_xlim(0, W)
ov.set_ylim(H, 0)

fig.savefig('out.png', dpi=100)
